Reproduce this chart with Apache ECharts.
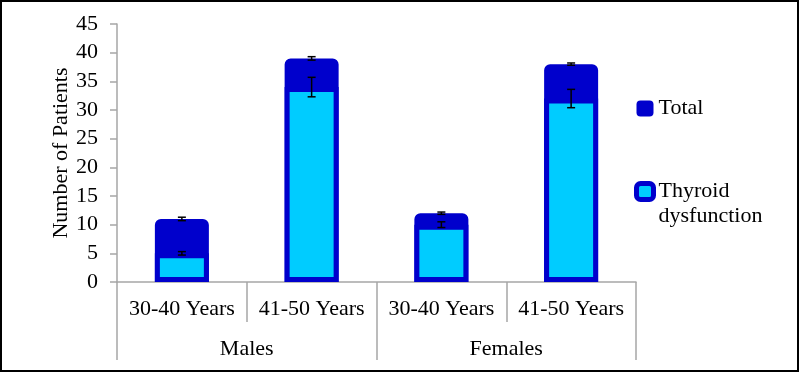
<!DOCTYPE html>
<html>
<head>
<meta charset="utf-8">
<script src="https://cdn.jsdelivr.net/npm/echarts@6/dist/echarts.min.js"></script>
<style>
  html, body { margin: 0; padding: 0; background: #fff; }
  #chart { width: 801px; height: 374px; }
</style>
</head>
<body>
<div id="chart"></div>
<script>
// data
const ageGroups = ['30-40 Years', '41-50 Years', '30-40 Years', '41-50 Years'];
const sexGroups = ['Males', 'Females'];
const totalValues = [11, 39, 12, 38];
const totalErrors = [0.3, 0.3, 0.2, 0.2];
const thyroidValues = [5, 34, 10, 32];
const thyroidErrors = [0.3, 1.7, 0.5, 1.6];

const DARK = '#0000CC';
const LIGHT = '#00CCFF';
const AXIS_GREY = '#A6A6A6';
const FONT = "'Liberation Serif', 'Times New Roman', serif";
const FS = 22;

const chart = echarts.init(document.getElementById('chart'));

// error bar: vertical line with small caps
function errorBar(params, api) {
  const x = api.value(0);
  const v = api.value(1);
  const e = api.value(2);
  const hi = api.coord([x, v + e]);
  const lo = api.coord([x, v - e]);
  const cap = 4;
  const style = { stroke: '#000', lineWidth: 1.5 };
  return {
    type: 'group',
    children: [
      { type: 'line', shape: { x1: hi[0], y1: hi[1], x2: lo[0], y2: lo[1] }, style },
      { type: 'line', shape: { x1: hi[0] - cap, y1: hi[1], x2: hi[0] + cap, y2: hi[1] }, style },
      { type: 'line', shape: { x1: lo[0] - cap, y1: lo[1], x2: lo[0] + cap, y2: lo[1] }, style }
    ]
  };
}

chart.setOption({
  animation: false,
  textStyle: { fontFamily: FONT },
  graphic: [{
    type: 'rect',
    shape: { x: 1, y: 1, width: 797, height: 370 },
    style: { fill: 'none', stroke: '#000', lineWidth: 2 },
    silent: true
  }],
  grid: { left: 117, right: 165, top: 24, bottom: 92 },
  legend: {
    orient: 'vertical',
    left: 634,
    top: 96,
    padding: 0,
    itemGap: 33,
    itemWidth: 17,
    itemHeight: 16,
    icon: 'roundRect',
    data: [
      { name: 'Total', itemStyle: { color: DARK, borderWidth: 0 } },
      { name: 'Thyroid dysfunction', itemStyle: { color: LIGHT, borderColor: DARK, borderWidth: 5 } }
    ],
    // blank first line keeps "Thyroid" level with the icon
    formatter: function (name) {
      return name === 'Thyroid dysfunction' ? ' \nThyroid\ndysfunction' : name;
    },
    textStyle: { fontFamily: FONT, fontSize: FS, color: '#000', lineHeight: 25 }
  },
  xAxis: [{
    type: 'category',
    data: ageGroups,
    position: 'bottom',
    axisLine: { lineStyle: { color: AXIS_GREY, width: 1.5 } },
    axisTick: { show: true, interval: 0, length: 40, lineStyle: { color: AXIS_GREY, width: 1.5 } },
    axisLabel: { interval: 0, margin: 16, fontFamily: FONT, fontSize: FS, color: '#000' }
  }, {
    type: 'category',
    data: sexGroups,
    position: 'bottom',
    axisLine: { show: false },
    axisTick: { show: true, interval: 0, length: 78, lineStyle: { color: AXIS_GREY, width: 1.5 } },
    axisLabel: { interval: 0, margin: 56, fontFamily: FONT, fontSize: FS, color: '#000' }
  }],
  yAxis: {
    type: 'value',
    min: 0,
    max: 45,
    interval: 5,
    name: 'Number of Patients',
    nameLocation: 'middle',
    nameGap: 45,
    nameMoveOverlap: false,
    nameTextStyle: { fontFamily: FONT, fontSize: FS, color: '#000' },
    splitLine: { show: false },
    axisLine: { show: true, lineStyle: { color: AXIS_GREY, width: 1.5 } },
    axisTick: { show: true, length: 7, lineStyle: { color: AXIS_GREY, width: 1.5 } },
    axisLabel: { margin: 19, fontFamily: FONT, fontSize: FS, color: '#000' }
  },
  series: [{
    name: 'Total',
    type: 'bar',
    data: totalValues,
    barWidth: 54,
    barGap: '-100%',
    itemStyle: { color: DARK, borderColor: DARK, borderWidth: 4, borderRadius: [4, 4, 0, 0] }
  }, {
    name: 'Thyroid dysfunction',
    type: 'bar',
    data: thyroidValues,
    barWidth: 54,
    barGap: '-100%',
    itemStyle: { color: LIGHT, borderColor: DARK, borderWidth: 5 }
  }, {
    type: 'custom',
    name: 'totalErr',
    renderItem: errorBar,
    data: totalValues.map((v, i) => [i, v, totalErrors[i]]),
    z: 10
  }, {
    type: 'custom',
    name: 'thyroidErr',
    renderItem: errorBar,
    data: thyroidValues.map((v, i) => [i, v, thyroidErrors[i]]),
    z: 10
  }]
});
</script>
</body>
</html>
